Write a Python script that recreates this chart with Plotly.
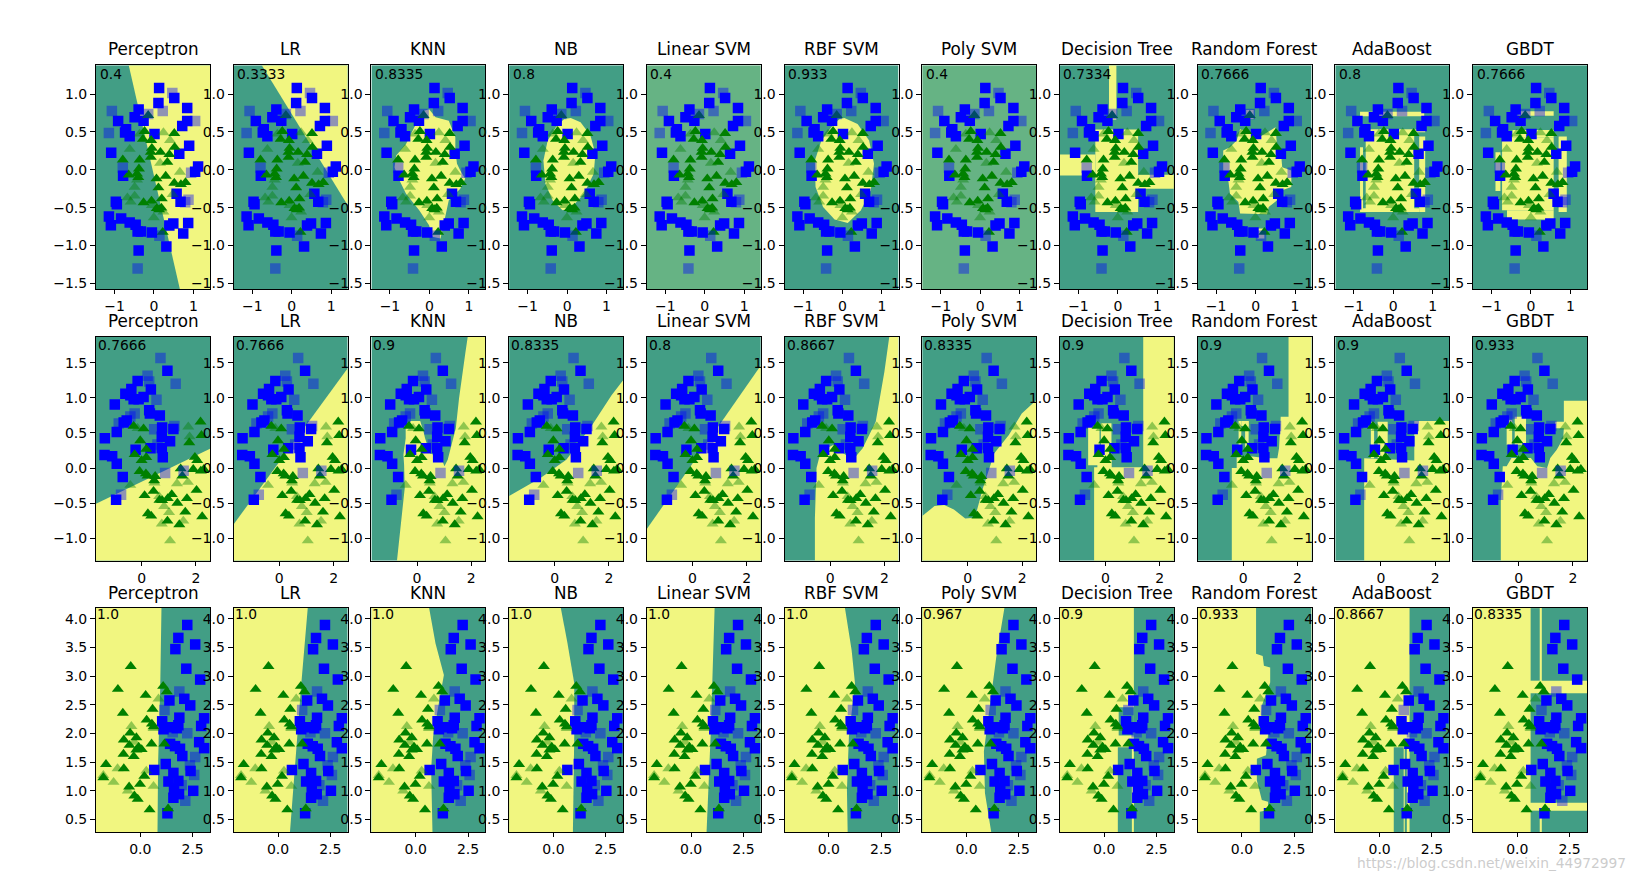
import plotly.graph_objects as go

MODELS = ["Perceptron", "LR", "KNN", "NB", "Linear SVM", "RBF SVM", "Poly SVM",
          "Decision Tree", "Random Forest", "AdaBoost", "GBDT"]
SCORES = [
    ["0.4", "0.3333", "0.8335", "0.8", "0.4", "0.933", "0.4", "0.7334", "0.7666", "0.8", "0.7666"],
    ["0.7666", "0.7666", "0.9", "0.8335", "0.8", "0.8667", "0.8335", "0.9", "0.9", "0.9", "0.933"],
    ["1.0", "1.0", "1.0", "1.0", "1.0", "1.0", "0.967", "0.9", "0.933", "0.8667", "0.8335"],
]

# ---------- points: (x, y) ----------
R1_TRAIN_BLUE = [(.13,1.08),(.515,.947),(.113,.882),(.842,.816),(-.389,.798),(-.49,.693),(-.264,.649),(-.909,.645),
    (.842,.645),(.716,.579),(-.708,.535),(-.733,.491),(-.616,.443),(.013,.474),(.892,.316),(-1.085,.224),(.641,.211),
    (1.118,.044),(1.043,-.026),(-.783,-.079),(-.967,-.421),(-.942,-.456),(.574,-.316),(.674,-.421),(-1.143,-.618),
    (-1.093,-.732),(-.833,-.645),(-.616,-.697),(-.465,-.728),(-.415,-.816),(-.331,-.816),(-.054,-.829),(.389,-.737),
    (.49,-.711),(.867,-.702),(.741,-.842),(-.389,-1.066),(.314,-1.013)]
R1_TEST_BLUE = [(-1.068,.776),(-1.143,.487),(-.415,-1.303),(.138,-.873),(-.791,.026),(.791,-.43),(.465,1.013),
    (.222,.776),(1.043,.645),(.942,-.039),(.875,-.395),(-.147,.737)]
R1_TRAIN_GREEN = [(-.147,.719),(-.239,.509),(.515,.482),(-.281,.404),(-.071,.39),(-.054,.285),(-.08,.232),(.163,.232),
    (-.08,.167),(.523,.298),(.389,.202),(-.791,.132),(-.364,.132),(.339,.101),(-.381,.013),(-.641,-.066),(-.431,-.053),
    (-.398,-.101),(.063,-.118),(.297,-.083),(.113,-.237),(.515,-.175),(.683,-.193),(.8,-.167),(.197,-.382),(-.264,-.434),
    (-.063,-.412),(.188,-.504),(.071,-.509),(.13,-.526),(.222,-.825)]
R1_TEST_GREEN = [(-.364,.474),(.239,.491),(.406,.39),(-.616,.272),(.155,.088),(.657,-.031),(-.431,-.132),(-.49,-.228),
    (.473,-.325),(-.674,-.368),(-.49,-.346),(-.59,-.425),(-.054,-.469),(.239,-.557),(-.004,-.632)]

R2_TRAIN_BLUE = [(.951,1.384),(-.146,1.238),(.341,1.12),(-.598,1.059),(-.378,1.125),(-.415,1.035),(-.293,.979),(-.11,.979),
    (.073,1.012),(-.988,.904),(.28,.824),(.305,.776),(.671,.748),(.756,.579),(1.171,.555),(-.549,.678),(-.659,.649),
    (-.915,.513),(-1.354,.424),(.744,.447),(1.049,.381),(-.22,.259),(.329,.282),(.744,.287),(.78,.155),(-1.366,.184),
    (-1.085,.169),(-.915,.061),(-.695,-.127),(-.939,-.452)]
R2_TEST_BLUE = [(.695,1.567),(.22,1.313),(.28,1.233),(1.256,1.2),(.549,.974),(-.256,.776),(-.415,.734),(-.841,.635),
    (1.207,.598),(.463,.551),(.585,.334),(.866,-.071),(1.549,-.038),(-.756,-.381)]
R2_TRAIN_GREEN = [(-.293,.598),(.073,.56),(2.171,.659),(2.207,.466),(1.756,.362),(-.049,.391),(.171,.268),(-.256,.193),
    (.171,.151),(0,.108),(1.963,.155),(2.049,.108),(1.439,-.009),(-.073,-.047),(.159,-.08),(.22,-.113),(.5,-.118),
    (.463,-.179),(1.5,-.113),(1.902,-.019),(2.183,-.042),(2.293,-.019),(2.024,-.315),(.11,-.391),(.439,-.329),(1.11,-.376),
    (.963,-.433),(.659,-.456),(.756,-.461),(1.671,-.433),(1.317,-.499),(1.61,-.626),(.232,-.649),(.354,-.682),(.951,-.753),
    (1.39,-.805),(2.232,-.692)]
R2_TEST_GREEN = [(1.72,.588),(1.768,.447),(-.146,.565),(-.415,-.245),(.476,-.212),(1.305,-.221),(1.707,-.202),(.646,-.405),
    (.829,-.546),(1.012,-.631),(.744,-.795),(1.537,-.753),(1.049,-1.035)]

R3_TRAIN_BLUE = [(2.243,3.891),(1.817,3.666),(2.622,3.551),(1.675,3.47),(2.196,3.129),(2.86,2.939),(1.39,2.575),(2.101,2.604),
    (2.385,2.489),(1.043,2.212),(1.864,2.275),(3.049,2.264),(1.106,2.073),(1.39,2.108),(1.738,2.091),(1.817,2.143),
    (2.907,2.131),(1.422,1.819),(1.659,1.779),(1.896,1.733),(2.006,1.606),(2.812,1.848),(3.049,1.744),(1.216,1.467),
    (.664,1.364),(2.401,1.346),(1.58,1.312),(1.343,1.162),(1.817,1.173),(1.611,1.04),(1.848,.942),(1.58,.879),(2.528,1),
    (1.295,.608)]
R3_TEST_BLUE = [(1.864,2.731),(1.153,2.408),(1.548,2.021),(2.243,2.004),(2.622,1.589),(2.37,1.444),(2.575,1.277),
    (1.975,1.098),(2.148,.827)]
R3_TRAIN_GREEN = [(-.458,3.17),(-1.074,2.772),(.253,2.668),(1.09,2.823),(1.264,2.731),(.585,2.425),(-.837,2.356),(.3,2.235),
    (.553,2.166),(.632,2.119),(-.49,2.01),(-.19,1.929),(-.79,1.889),(-.521,1.796),(.537,1.819),(1.153,1.819),(-.079,1.762),
    (-.19,1.715),(.063,1.721),(-.806,1.64),(-.316,1.6),(-1.643,1.462),(-.79,1.387),(-1.769,1.231),(.19,1.254),(-.537,1.069),
    (-.016,1.115),(-.284,.913),(-.126,.856),(.442,.671),(1.327,.688)]
R3_TEST_GREEN = [(-.427,2.125),(.869,2.604),(.632,2.09),(-.284,1.848),(-1.09,1.387),(-1.769,1.271),(-1.28,1.15),(.284,1.346),
    (.632,1.081),(-.6,1)]

TRAIN_BLUE = [R1_TRAIN_BLUE, R2_TRAIN_BLUE, R3_TRAIN_BLUE]
TEST_BLUE = [R1_TEST_BLUE, R2_TEST_BLUE, R3_TEST_BLUE]
TRAIN_GREEN = [R1_TRAIN_GREEN, R2_TRAIN_GREEN, R3_TRAIN_GREEN]
TEST_GREEN = [R1_TEST_GREEN, R2_TEST_GREEN, R3_TEST_GREEN]

# ---------- axis extents and ticks ----------
X_RANGES = [(-1.47, 1.42), (-1.68, 2.52), (-2.12, 3.33)]
Y_RANGES = [(-1.58, 1.38), (-1.32, 1.87), (.28, 4.185)]
X_TICKS = [[-1, 0, 1], [0, 2], [0.0, 2.5]]
X_LABELS = [["\u22121", "0", "1"], ["0", "2"], ["0.0", "2.5"]]
Y_TICKS = [[-1.5, -1.0, -.5, 0, .5, 1.0], [-1.0, -.5, 0, .5, 1.0, 1.5], [.5, 1, 1.5, 2, 2.5, 3, 3.5, 4]]

def R(x0, x1, y0, y1):
    return [(x0, y0), (x1, y0), (x1, y1), (x0, y1)]

# ---------- decision regions: (background class, [other-class polygons]) ----------
D, Y, L = "dark", "yellow", "light"
REG1 = [
    (D, [[(-.64,1.38),(1.42,1.38),(1.42,-1.58),(.657,-1.58)]]),
    (D, [[(-.758,1.38),(1.42,1.38),(1.42,-.47)]]),
    (D, [[(-.133,.78),(-.008,.80),(.158,.693),(.492,.649),(.658,.43),(.658,.254),(.7,.079),(.783,-.009),(.908,-.118),(.783,-.25),
          (.492,-.404),(.408,-.623),(.283,-.908),(.075,-.886),(-.008,-.732),(-.258,-.535),(-.592,-.316),(-.8,-.096),(-.883,.035),
          (-.842,.189),(-.592,.342),(-.383,.561)]]),
    (D, [[(.092,.684),(.342,.627),(.592,.452),(.717,.211),(.675,-.053),(.425,-.316),(.092,-.513),(-.117,-.535),(-.367,-.404),
          (-.55,-.184),(-.6,.123),(-.492,.386),(-.283,.561),(-.075,.671)]]),
    (L, []),
    (D, [[(.05,.684),(.383,.605),(.675,.386),(.8,.079),(.717,-.272),(.467,-.535),(.133,-.702),(-.2,-.658),(-.492,-.491),
          (-.683,-.228),(-.7,.123),(-.533,.386),(-.283,.561),(-.075,.671)]]),
    (L, []),
    (D, [R(-.572,.513,-.557,.531), R(-1.47,-.572,-.075,.202), R(.513,1.42,-.25,-.066), R(-.225,-.038,.66,1.38)]),
    (D, [[(-.393,.539),(.12,.439),(.504,.561),(.547,.298),(.65,.189),(.675,.035),(.906,-.009),(.906,-.228),(.675,-.272),
          (.547,-.404),(.333,-.491),(.291,-.588),(-.393,-.579),(-.436,-.425),(-.65,-.316),(-.692,-.14),(-.821,-.009),(-.821,.254),
          (-.65,.298),(-.479,.386)], R(.05,.222,-.908,-.776), R(-.239,-.05,.671,.789)]),
    (D, [R(-.843,.784,.706,.768), R(-.699,.53,-.557,.531), R(-.742,.809,.496,.531), R(-.843,-.767,-.557,.298),
         R(.657,.809,-.557,.439), R(-.767,.657,-.557,-.51)]),
    (D, [R(-.317,.575,.715,.772), R(-.733,.575,-.535,.43), R(-.467,.575,.43,.526), R(-.608,.575,-.658,-.535),
         R(-.9,-.775,-.281,.232), R(.7,.908,-.557,.439)]),
]
REG2 = [
    (D, [[(-1.68,-.508),(2.52,.273),(2.52,-1.32),(-1.68,-1.32)]]),
    (D, [[(-1.68,-.8),(2.52,1.42),(2.52,-1.32),(-1.68,-1.32)]]),
    (D, [[(-.738,-1.32),(-.619,-.896),(-.536,-.566),(-.452,-.283),(-.476,.047),(-.5,.189),(-.417,.425),(-.417,.566),(-.238,.67),
          (.119,.67),(.238,.519),(.298,.425),(.476,.212),(.893,.142),(1.012,.024),(1.131,.118),(1.429,.566),(1.548,.991),
          (1.786,1.651),(1.869,1.87),(2.52,1.87),(2.52,-1.32)]]),
    (D, [[(-1.68,-.40),(-.524,-.142),(.429,.118),(1.381,.613),(2.095,1.038),(2.52,1.25),(2.52,-1.32),(-1.68,-1.32)]]),
    (D, [[(-1.68,-.87),(2.52,1.46),(2.52,-1.32),(-1.68,-1.32)]]),
    (D, [[(-.56,-1.32),(-.56,-.71),(-.5,0),(-.345,.236),(.131,.33),(.488,.212),(.845,.118),(1.2,.283),(1.44,.47),(1.68,.66),
          (2.0,1.37),(2.18,1.87),(2.52,1.87),(2.52,-1.32)]]),
    (D, [[(-1.68,-.684),(-1.226,-.542),(-.869,-.528),(-.512,-.59),(-.095,-.717),(.262,-.708),(.56,-.283),(.976,.212),(1.512,.472),
          (1.988,.778),(2.52,.967),(2.52,-1.32),(-1.68,-1.32)]]),
    (D, [R(1.39,2.52,0,1.87), R(-.42,2.52,-1.32,.01), R(-.64,-.22,.04,.59), R(-.17,.22,0,.637), R(-.3,.22,0,.31)]),
    (D, [[(-.42,-1.32),(-.42,0),(-.24,0),(-.24,.15),(.324,.165),(.884,.14),(1.258,.14),(1.32,.283),(1.382,.73),(1.67,.73),
          (1.67,1.87),(2.52,1.87),(2.52,-1.32)], R(-.17,-.07,.19,.67), R(-.07,.2,.6,.67), R(.07,.2,.25,.67)]),
    (D, [[(-.616,-1.32),(-.616,.14),(1.23,.108),(1.23,.67),(2.52,.67),(2.52,-1.32)], R(-.37,-.25,.14,.66), R(-.12,.25,.14,.66)]),
    (D, [[(-.655,-1.32),(-.655,-.47),(-.583,.024),(-.44,.024),(-.262,.142),(.452,.142),(.69,.024),(1.048,0),(1.167,.142),(1.405,.259),
          (1.643,.425),(1.667,.566),(1.345,.566),(1.345,.66),(1.667,.66),(1.667,.958),(2.52,.958),(2.52,-1.32)],
         R(-.44,-.238,.33,.684), R(-.143,.274,.33,.73)]),
]
REG3 = [
    (D, [[(-2.12,4.185),(1.01,4.185),(.95,2.8),(.85,1.5),(.82,.28),(-2.12,.28)]]),
    (D, [[(-2.12,4.185),(1.42,4.185),(1.12,2.9),(.57,.28),(-2.12,.28)]]),
    (D, [[(-2.12,4.185),(.64,4.185),(.946,3.57),(1.346,3.02),(1.106,2.53),(.833,1.95),(.737,1.37),(.8,.28),(-2.12,.28)]]),
    (D, [[(-2.12,4.185),(.353,4.185),(.673,3.57),(.994,2.875),(.994,1.95),(.96,1.08),(.93,.28),(-2.12,.28)]]),
    (D, [[(-2.12,4.185),(1.122,4.185),(.93,1.95),(.737,.28),(-2.12,.28)]]),
    (D, [[(-2.12,4.185),(.77,4.185),(1.09,3.45),(1.25,2.875),(.96,1.95),(.865,1.02),(.9,.28),(-2.12,.28)]]),
    (D, [[(-2.12,4.185),(1.81,4.185),(1.42,3.33),(1.08,2.42),(.83,1.69),(.88,.96),(1.18,.28),(-2.12,.28)]]),
    (Y, [R(1.417,3.33,.28,4.185), R(.65,1.32,.28,1.76), R(.69,1.417,1.965,2.457)]),
    (Y, [[(.675,4.185),(.675,3.39),(.992,3.35),(1.05,3.18),(1.35,3.15),(1.35,2.89),(1.15,2.69),(.95,2.485),(.89,2.05),(1.25,1.99),
          (1.15,1.62),(.714,1.56),(.714,1.18),(.95,.84),(1.25,.81),(1.25,.665),(.853,.636),(.853,.28),(3.33,.28),(3.33,4.185)]]),
    (Y, [R(1.43,3.33,.28,4.185), R(.675,1.15,.28,1.76), R(1.2,1.3,.28,1.76)]),
    (Y, [R(.635,1.07,2.92,4.185), R(1.17,3.33,2.92,4.185), R(.635,3.33,.79,2.70), R(.635,1.07,.28,.654), R(1.17,3.33,.28,.654)]),
]
REGIONS = [REG1, REG2, REG3]

COL = {D: "#429E85", Y: "#F1F680", L: "#66B384"}
OTHER = {D: Y, Y: D, L: L}

PANEL_LEFT, PANEL_STEP, PANEL_W = 96, 137.7, 114
ROW_TOP, ROW_H = [65.5, 337.5, 609.5], 224.5
W, H = 1637, 881
TEXT_INSET = [(1.5, 9), (0, 8), (-1, 6)]
TITLE_SHIFT = [4, 4, 3]
FONT = "DejaVu Sans"

fig = go.Figure()
layout = {}
annotations = []


def poly_trace(pts, colour, ax):
    xs = [p[0] for p in pts] + [pts[0][0]]
    ys = [p[1] for p in pts] + [pts[0][1]]
    return go.Scatter(x=xs, y=ys, mode="lines", fill="toself", fillcolor=colour,
                      line=dict(width=0, color=colour), hoverinfo="skip", xaxis=f"x{ax}", yaxis=f"y{ax}")


def pts_trace(pts, symbol, colour, opacity, ax):
    return go.Scatter(x=[p[0] for p in pts], y=[p[1] for p in pts], mode="markers",
                      marker=dict(symbol=symbol, size=MARK[symbol], color=colour, opacity=opacity, line=dict(width=0)),
                      xaxis=f"x{ax}", yaxis=f"y{ax}")


MARK = {"square": 10.5, "triangle-up": 10.5}
n = 0
for r in range(3):
    xr, yr = X_RANGES[r], Y_RANGES[r]
    for c, name in enumerate(MODELS):
        n += 1
        base, polys = REGIONS[r][c]
        fig.add_trace(poly_trace(R(xr[0], xr[1], yr[0], yr[1]), COL[base], n))
        for p in polys:
            fig.add_trace(poly_trace(p, COL[OTHER[base]], n))
        fig.add_trace(pts_trace(TRAIN_BLUE[r], "square", "#0000FF", 1, n))
        fig.add_trace(pts_trace(TRAIN_GREEN[r], "triangle-up", "#008000", 1, n))
        fig.add_trace(pts_trace(TEST_BLUE[r], "square", "#0000FF", .4, n))
        fig.add_trace(pts_trace(TEST_GREEN[r], "triangle-up", "#008000", .4, n))

        left = PANEL_LEFT + c * PANEL_STEP
        top = ROW_TOP[r]
        suffix = "" if n == 1 else str(n)
        layout[f"xaxis{suffix}"] = dict(
            domain=[left / W, (left + PANEL_W) / W], range=list(xr), anchor=f"y{suffix}",
            tickmode="array", tickvals=X_TICKS[r], ticktext=X_LABELS[r], ticks="outside", ticklen=4, tickwidth=1,
            tickcolor="black", showline=True, mirror=True, linecolor="black", linewidth=1, showgrid=False,
            zeroline=False, tickfont=dict(family=FONT, size=14, color="black"))
        layout[f"yaxis{suffix}"] = dict(
            domain=[1 - (top + ROW_H) / H, 1 - top / H], range=list(yr), anchor=f"x{suffix}",
            tickmode="array", tickvals=Y_TICKS[r], tickformat=".1f", ticks="outside", ticklen=5, tickwidth=1,
            tickcolor="black", showline=True, mirror=True, linecolor="black", linewidth=1, showgrid=False,
            zeroline=False, tickfont=dict(family=FONT, size=14, color="black"))
        annotations.append(dict(text=name, xref=f"x{suffix} domain", yref=f"y{suffix} domain", x=.5, y=1,
                                xanchor="center", yanchor="bottom", yshift=TITLE_SHIFT[r], showarrow=False,
                                font=dict(family=FONT, size=16.8, color="black")))
        inset = TEXT_INSET[r]
        annotations.append(dict(text=SCORES[r][c], xref=f"x{suffix} domain", yref=f"y{suffix} domain", x=0, y=1,
                                xanchor="left", yanchor="middle", xshift=inset[0], yshift=-inset[1], showarrow=False,
                                font=dict(family=FONT, size=13.8, color="black")))

annotations.append(dict(text="https://blog.csdn.net/weixin_44972997", xref="paper", yref="paper",
                        x=1628 / W, y=1 - 865 / H, xanchor="right", yanchor="middle", showarrow=False,
                        font=dict(family=FONT, size=13.8, color="rgba(195,195,195,0.85)")))

fig.update_layout(width=W, height=H, margin=dict(l=0, r=0, t=0, b=0), paper_bgcolor="white", plot_bgcolor="white",
                  showlegend=False, hovermode=False, annotations=annotations, **layout)
fig.write_html("out.html", config={"displayModeBar": False},
               post_script="document.body.style.margin='0';document.body.style.overflow='hidden';")
